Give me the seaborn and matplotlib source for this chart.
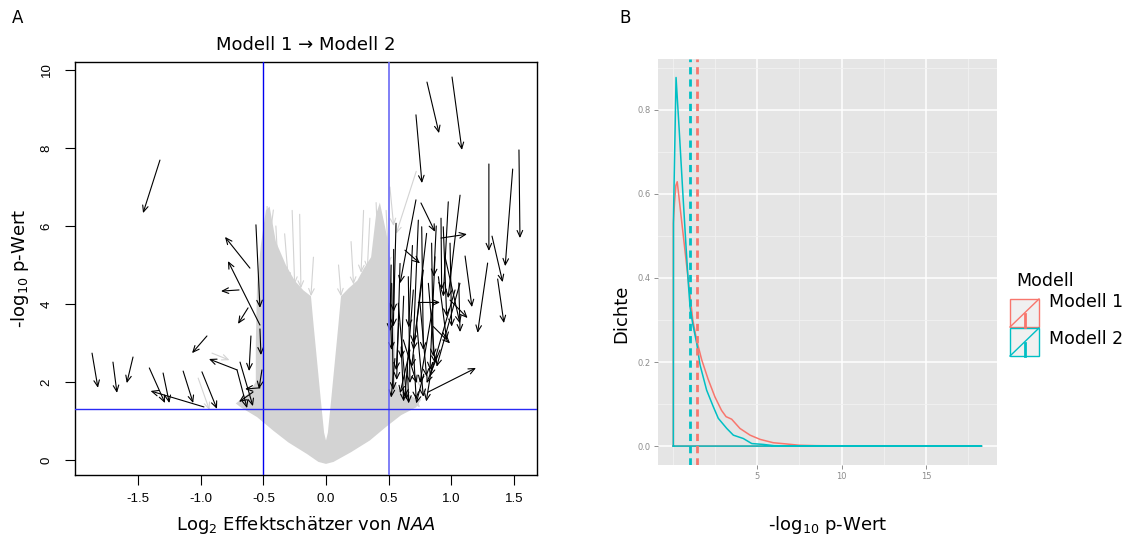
import numpy as np
import pandas as pd
import matplotlib
matplotlib.use("Agg")
import matplotlib.pyplot as plt
import seaborn as sns
from matplotlib.patches import Rectangle
from matplotlib.lines import Line2D

plt.rcParams['font.family'] = ['DejaVu Sans']
plt.rcParams['mathtext.default'] = 'regular'

# ---------------- Panel A data ----------------
# outline of the dense grey cloud of (non-significant) arrows
cloud_x = [0.0, 0.06, 0.20, 0.35, 0.48, 0.60, 0.72, 0.76, 0.60, 0.55, 0.55, 0.53, 0.50,
           0.47, 0.43, 0.40, 0.36, 0.30, 0.25, 0.18, 0.12, 0.10, 0.07, 0.04, 0.015, 0.0,
           -0.015, -0.04, -0.07, -0.10, -0.12, -0.18, -0.25, -0.32, -0.40, -0.45, -0.48,
           -0.52, -0.55, -0.56, -0.56, -0.62, -0.72, -0.68, -0.55, -0.42, -0.30, -0.15, -0.06]
cloud_y = [-0.10, -0.05, 0.20, 0.50, 0.85, 1.15, 1.35, 1.55, 1.70, 2.00, 3.00, 4.50, 5.50,
           6.00, 6.60, 6.30, 5.20, 4.90, 4.60, 4.40, 4.20, 3.50, 2.50, 1.50, 0.70, 0.50,
           0.70, 1.50, 2.50, 3.50, 4.20, 4.35, 4.60, 5.00, 5.60, 6.50, 6.40,
           5.50, 4.50, 3.00, 2.00, 1.70, 1.45, 1.35, 1.10, 0.75, 0.45, 0.15, -0.05]

# a few visible grey arrows at the cloud edge (start -> end)
grey_x0 = [-0.47, -0.27, -0.21, 0.30, 0.40, 0.45, 0.72, 0.51, -0.91, -1.02, -0.42, 0.60, 0.70,
           -0.40, -0.33, 0.20, 0.35, 0.48, -0.10, 0.10]
grey_y0 = [6.50, 6.40, 6.30, 6.40, 6.60, 6.20, 7.40, 7.00, 2.74, 2.10, 6.41, 1.90, 2.20,
           6.00, 5.80, 5.60, 6.20, 6.40, 5.20, 5.00]
grey_x1 = [-0.46, -0.25, -0.20, 0.28, 0.42, 0.47, 0.56, 0.54, -0.77, -0.93, -0.46, 0.75, 0.80,
           -0.38, -0.30, 0.22, 0.33, 0.50, -0.12, 0.12]
grey_y1 = [4.50, 4.50, 4.40, 4.80, 5.00, 4.60, 5.80, 6.00, 2.56, 1.28, 5.38, 1.35, 1.60,
           4.80, 4.60, 4.50, 4.90, 5.00, 4.20, 4.20]

# significant genes: arrows from Modell 1 to Modell 2 (start -> end)
arr_x0 = [-1.325, -0.559, -0.607, -0.527, -0.694, -0.622, -0.950, -0.527, -0.599, -0.710,
          -0.710, -0.686, -0.511, -0.527, -0.583, -1.867, -1.700, -1.540, -1.410, -1.300,
          -1.140, -0.974, -0.990,
          0.806, 1.006, 0.718, 1.540, 1.490, 1.300, 1.325, 1.290, 1.370, 1.110, 1.070,
          0.758, 0.918, 0.814, 1.060, 0.990, 0.630,
          0.718, 0.559, 0.737, 0.764, 0.803, 0.843, 0.870, 0.918, 0.936, 0.976, 0.990,
          0.591, 0.657, 0.697, 0.750, 0.817, 0.857, 0.897, 0.524, 0.577, 0.724, 1.069,
          1.030, 0.777, 0.950, 0.737, 0.511, 0.617, 0.670, 0.910, 0.857,
          0.55, 0.60, 0.65, 0.70, 0.78, 0.85, 0.58, 0.62, 0.54, 0.52, 0.88, 0.69]
arr_y0 = [7.69, 6.03, 4.92, 3.46, 4.36, 3.90, 3.18, 3.36, 3.18, 2.31,
          2.31, 2.51, 2.31, 1.85, 1.74, 2.74, 2.51, 2.64, 2.36, 2.23,
          2.28, 1.36, 2.26,
          9.69, 9.82, 8.85, 7.95, 7.46, 7.59, 5.74, 5.05, 4.64, 5.23, 6.79,
          6.59, 5.69, 1.74, 4.54, 4.10, 5.38,
          6.67, 6.07, 6.15, 5.98, 5.81, 5.56, 5.21, 6.20, 5.98, 6.62, 5.56,
          5.04, 4.70, 4.36, 4.02, 4.53, 4.02, 4.70, 4.53, 4.02, 3.50, 4.53,
          4.36, 4.87, 5.21, 4.04, 4.02, 3.08, 2.82, 2.82, 3.42,
          2.60, 2.90, 2.40, 2.70, 2.20, 2.50, 3.50, 4.20, 5.40, 5.00, 6.00, 5.50]
arr_x1 = [-1.460, -0.527, -0.806, -0.782, -0.838, -0.702, -1.069, -0.519, -0.614, -0.934,
          -0.630, -0.583, -0.535, -0.646, -0.694, -1.820, -1.668, -1.590, -1.285, -1.250,
          -1.060, -1.400, -0.870,
          0.902, 1.085, 0.766, 1.548, 1.430, 1.300, 1.410, 1.210, 1.420, 1.165, 0.974,
          0.870, 1.125, 1.197, 1.070, 1.130, 0.750,
          0.591, 0.537, 0.697, 0.777, 0.684, 0.857, 0.830, 0.923, 0.963, 0.936, 1.003,
          0.564, 0.670, 0.630, 0.803, 0.870, 0.750, 0.963, 0.537, 0.644, 0.777, 0.883,
          0.830, 0.697, 1.069, 0.910, 0.524, 0.724, 0.591, 0.803, 0.990,
          0.52, 0.62, 0.66, 0.72, 0.72, 0.80, 0.56, 0.60, 0.54, 0.51, 0.86, 0.66]
arr_y1 = [6.33, 3.90, 5.72, 5.10, 4.33, 3.49, 2.74, 2.69, 2.28, 2.59,
          1.33, 1.38, 1.82, 1.82, 1.49, 1.85, 1.72, 1.97, 1.46, 1.46,
          1.46, 1.77, 1.31,
          8.38, 7.95, 7.10, 5.69, 4.97, 5.36, 4.56, 3.26, 3.51, 3.92, 4.15,
          5.85, 5.79, 2.36, 3.28, 3.64, 5.04,
          4.53, 3.42, 2.99, 2.82, 2.39, 2.65, 2.31, 4.36, 3.68, 4.19, 3.42,
          2.05, 1.97, 1.62, 2.14, 2.48, 1.97, 3.08, 1.79, 1.54, 1.62, 2.39,
          2.14, 2.82, 3.50, 4.04, 2.82, 1.97, 1.71, 1.97, 2.99,
          1.60, 1.50, 1.45, 1.55, 1.45, 1.50, 2.30, 2.60, 3.80, 3.30, 4.70, 3.40]

xticks_A = [-1.5, -1.0, -0.5, 0.0, 0.5, 1.0, 1.5]
xticklabels_A = ["-1.5", "-1.0", "-0.5", "0.0", "0.5", "1.0", "1.5"]
yticks_A = [0, 2, 4, 6, 8, 10]
fc_threshold = [-0.5, 0.5]
p_threshold = 1.30

# ---------------- Panel B data ----------------
dens_x_m1 = [0.05, 0.05, 0.12, 0.20, 0.28, 0.40, 0.55, 0.70, 0.85, 0.99, 1.20, 1.43, 1.73,
             2.10, 2.51, 2.90, 3.17, 3.50, 3.99, 4.59, 5.18, 5.96, 6.76, 7.50, 8.50, 10.0,
             12.0, 15.0, 18.3, 0.05]
dens_y_m1 = [0.0, 0.53, 0.58, 0.62, 0.629, 0.586, 0.532, 0.479, 0.425, 0.375, 0.30, 0.252,
             0.205, 0.16, 0.117, 0.085, 0.070, 0.064, 0.042, 0.026, 0.016, 0.008, 0.005,
             0.002, 0.001, 0.0005, 0.0002, 0.0001, 0.0, 0.0]
dens_x_m2 = [0.05, 0.06, 0.21, 0.40, 0.60, 0.80, 0.94, 1.04, 1.20, 1.43, 1.63, 2.02, 2.41,
             2.71, 3.21, 3.60, 4.19, 4.69, 5.37, 6.0, 7.0, 10.0, 14.0, 18.3, 0.05]
dens_y_m2 = [0.0, 0.55, 0.877, 0.75, 0.61, 0.475, 0.385, 0.33, 0.29, 0.245, 0.193, 0.133,
             0.094, 0.066, 0.042, 0.026, 0.018, 0.006, 0.004, 0.001, 0.0005, 0.0002,
             0.0001, 0.0, 0.0]
mean_lines = {"Modell 1": 1.43, "Modell 2": 1.04}
models = ["Modell 1", "Modell 2"]
model_colors = {"Modell 1": "#F8766D", "Modell 2": "#00BFC4"}
xticks_B = [5, 10, 15]
xminor_B = [0, 2.5, 7.5, 12.5, 17.5]
yticks_B = [0.0, 0.2, 0.4, 0.6, 0.8]
yminor_B = [0.1, 0.3, 0.5, 0.7, 0.9]

# ---------------- figure ----------------
W, H = 1130, 541
fig = plt.figure(figsize=(W / 100, H / 100), dpi=100)


def fx(px):
    return px / W


def fy(py):
    return 1 - py / H


# ---------- Panel A ----------
axA = fig.add_axes([fx(75), fy(475), (537 - 75) / W, (475 - 62) / H])
axA.set_xlim(-2.003, 1.684)
axA.set_ylim(-0.385, 10.205)
axA.fill(cloud_x, cloud_y, color="#D3D3D3", lw=0, zorder=1)


def draw_arrows(ax, x0, y0, x1, y1, color, z):
    for a, b, c, d in zip(x0, y0, x1, y1):
        ax.annotate("", xy=(c, d), xytext=(a, b),
                    arrowprops=dict(arrowstyle="->,head_length=0.45,head_width=0.2",
                                    color=color, lw=0.8, shrinkA=0, shrinkB=0,
                                    mutation_scale=10),
                    zorder=z, annotation_clip=False)


draw_arrows(axA, grey_x0, grey_y0, grey_x1, grey_y1, "#D3D3D3", 2)
draw_arrows(axA, arr_x0, arr_y0, arr_x1, arr_y1, "black", 3)

axA.axvline(fc_threshold[0], color="#0000F0", lw=1.0, zorder=4)
axA.axvline(fc_threshold[1], color="#6A6AF5", lw=1.2, zorder=4)
axA.axhline(p_threshold, color="#2A2AF5", lw=1.0, zorder=4)

axA.set_xticks(xticks_A)
axA.set_xticklabels(xticklabels_A, family="Liberation Sans", fontsize=9.5)
axA.set_yticks(yticks_A)
axA.set_yticklabels([str(v) for v in yticks_A], family="Liberation Sans", fontsize=9.5,
                    rotation=90, va="center")
axA.tick_params(direction="out", length=7, width=0.8, pad=6)
axA.tick_params(axis="y", pad=9)
for s in axA.spines.values():
    s.set_linewidth(1.0)
    s.set_color("black")

# ---------- Panel B ----------
axB = fig.add_axes([fx(658), fy(465), (997 - 658) / W, (465 - 59) / H])
axB.set_facecolor("#E5E5E5")
axB.set_xlim(-0.858, 19.2)
axB.set_ylim(-0.045, 0.921)
axB.set_axisbelow(True)
axB.set_xticks(xticks_B)
axB.set_xticks(xminor_B, minor=True)
axB.set_xticklabels([str(v) for v in xticks_B])
axB.set_yticks(yticks_B)
axB.set_yticks(yminor_B, minor=True)
axB.set_yticklabels([f"{v:.1f}" for v in yticks_B])
axB.grid(which="major", color="white", lw=1.1)
axB.grid(which="minor", color="#F2F2F2", lw=0.6)
axB.tick_params(which="major", length=3, width=0.6, color="#7F7F7F",
                labelsize=6, labelcolor="#8C8C8C", pad=2)
axB.tick_params(which="minor", length=0)
for s in axB.spines.values():
    s.set_visible(False)

dens = pd.concat([
    pd.DataFrame({"x": dens_x_m1, "y": dens_y_m1, "Modell": "Modell 1"}),
    pd.DataFrame({"x": dens_x_m2, "y": dens_y_m2, "Modell": "Modell 2"}),
], ignore_index=True)
sns.lineplot(data=dens, x="x", y="y", hue="Modell", palette=model_colors,
             sort=False, estimator=None, legend=False, lw=1.1, ax=axB)
axB.set_xlabel("")
axB.set_ylabel("")
for m in models:
    axB.axvline(mean_lines[m], color=model_colors[m], lw=2.0, ls=(0, (2.6, 1.8)), zorder=3)

# ---------- texts ----------
fig.text(fx(18), fy(18), "A", fontsize=12, ha="center", va="center")
fig.text(fx(625), fy(18), "B", fontsize=12, ha="center", va="center")
fig.text(fx(306), fy(45), "Modell 1 \u2192 Modell 2", fontsize=13, ha="center", va="center")
fig.text(fx(306), fy(525), r"Log$_2$ Effektschätzer von $\mathit{NAA}$", fontsize=13,
         ha="center", va="center")
fig.text(fx(20), fy(268), r"-log$_{10}$ p-Wert", fontsize=13, ha="center", va="center",
         rotation=90)
fig.text(fx(828), fy(525), r"-log$_{10}$ p-Wert", fontsize=13, ha="center", va="center")
fig.text(fx(621), fy(314), "Dichte", fontsize=13, ha="center", va="center", rotation=90)

# ---------- legend ----------
fig.text(fx(1016), fy(281), "Modell", fontsize=12.5, ha="left", va="center")
key_tops = [299, 328]
label_y = [302, 339]
for m, top, ly in zip(models, key_tops, label_y):
    c = model_colors[m]
    x0, x1 = 1010, 1039
    y0, y1 = top, top + 28
    fig.add_artist(Rectangle((fx(x0), fy(y1)), (x1 - x0) / W, (y1 - y0) / H,
                             transform=fig.transFigure, facecolor="#F0F0F0",
                             edgecolor=c, lw=1.0))
    fig.add_artist(Line2D([fx(x0), fx(x1)], [fy(y1), fy(y0)], transform=fig.transFigure,
                          color=c, lw=1.0))
    xm = (x0 + x1) / 2
    fig.add_artist(Line2D([fx(xm), fx(xm)], [fy(y1), fy(y1 - 13)], transform=fig.transFigure,
                          color=c, lw=2.0))
    fig.text(fx(1049), fy(ly), m, fontsize=12.5, ha="left", va="center")

fig.savefig("out.png", dpi=100)
